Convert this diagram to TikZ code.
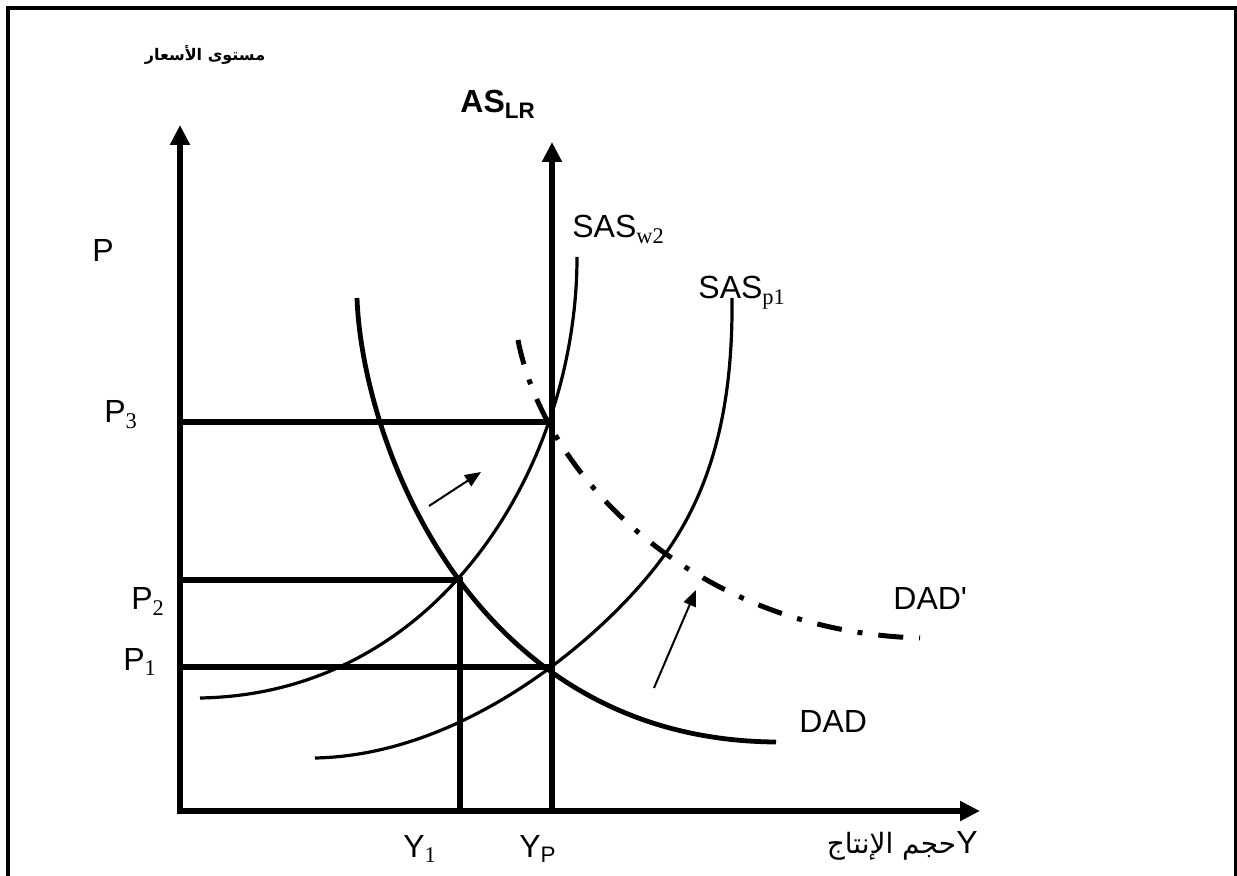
\documentclass[tikz,border=0pt]{standalone}
\usepackage{fontspec}
\setmainfont{Liberation Serif}
\setsansfont{Liberation Sans}[Ligatures=TeXOff]
\newfontfamily\arabicfont[Script=Arabic]{DejaVu Sans}
\usetikzlibrary{arrows.meta}
\TeXXeTstate=1
\newcommand{\lsub}[1]{\textsubscript{\rmfamily #1}}

\begin{document}
\begin{tikzpicture}[x=0.5pt,y=-0.5pt,
  axis/.style={line width=3pt,{Triangle[length=10pt,width=9.5pt]}-{Triangle[length=10pt,width=9.5pt]}},
  lvl/.style={line width=2.6pt},
  dad/.style={line width=2.4pt},
  sas/.style={line width=1.6pt},
  move/.style={line width=1pt,-{Triangle[length=8pt,width=6.5pt]}},
  lbl/.style={font=\sffamily\fontsize{16}{19}\selectfont,inner sep=0pt,anchor=base west}]
\useasboundingbox (0,0) rectangle (1237,876);
% frame
\draw[line width=2.2pt] (8,876) -- (8,8) -- (1237,8);
\draw[line width=1.2pt] (1235.5,8) -- (1235.5,876);

\coordinate (O) at (180,811);
\coordinate (ytip) at (180,125);
\coordinate (xtip) at (980,811);
\coordinate (YPb) at (552,811);
\coordinate (YPt) at (552,142);
\coordinate (E1) at (552,667);
\coordinate (E2) at (460,580);
\coordinate (E3) at (552,422);

% price levels
\draw[lvl] (O |- E3) -- (E3);
\draw[lvl] (O |- E2) -- (E2) -- (E2 |- O);
\draw[lvl] (O |- E1) -- (E1);

% axes
\draw[axis] (ytip) -- (O) -- (xtip);
\draw[line width=3pt,-{Triangle[length=10pt,width=9.5pt]}] (YPb) -- (YPt);

% curves
\draw[dad] (357,298) .. controls (362,440) and (470,740) .. (776,742);
\draw[sas] (200,698) .. controls (440,694) and (577,465) .. (577,257);
\draw[sas] (315,758) .. controls (470,755) and (610,630) .. (663,557)
                     .. controls (715,486) and (733,400) .. (732,298);
\draw[line width=2.5pt,dash pattern=on 12.5pt off 8pt on 2.5pt off 8pt]
  (518,340) .. controls (545,480) and (700,632) .. (920,638);

% shifts
\coordinate (s1) at (429,506);
\coordinate (t1) at (481,472);
\coordinate (s2) at (654,688);
\coordinate (t2) at (696,590);
\draw[move] (s1) -- (t1);
\draw[move] (s2) -- (t2);

% labels
\node[lbl] (Plab) at (92,262) {P};
\node[lbl] (P3lab) at (104,423) {P\lsub{3}};
\node[lbl] (P2lab) at (131,610) {P\lsub{2}};
\node[lbl] (P1lab) at (123,670) {P\lsub{1}};
\node[lbl] (Y1lab) at (403,857) {Y\lsub{1}};
\node[lbl] (YPlab) at (519,857) {Y\textsubscript{P}};
\node[lbl,font=\sffamily\bfseries\fontsize{16}{19}\selectfont] (ASlab) at (460,113) {AS\textsubscript{LR}};
\node[lbl] (SASw) at (572,238) {SAS\lsub{w2}};
\node[lbl] (SASp) at (698,299) {SAS\lsub{p1}};
\node[lbl] (DADp) at (893,610) {DAD'};
\node[lbl] (DADl) at (799,733) {DAD};
\node[inner sep=0pt] (yttl) at (205,55) {\arabicfont\bfseries\fontsize{8}{10}\selectfont\beginR مستوى الأسعار\endR};
\node[lbl,anchor=base east] (xttl) at (978,853) {{\arabicfont\fontsize{14}{17}\selectfont\beginR حجم الإنتاج\endR}Y};
\end{tikzpicture}
\end{document}
